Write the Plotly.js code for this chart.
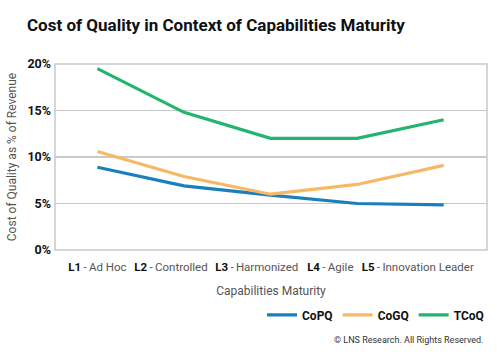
<!DOCTYPE html>
<html><head><meta charset="utf-8">
<script src="https://cdn.plot.ly/plotly-3.0.1.min.js"></script>
<style>body{margin:0;background:#fff}#c{width:500px;height:353px}</style>
</head><body><div id="c"></div>
<script>
const levels = ["L1", "L2", "L3", "L4", "L5"];
const levelNames = ["Ad Hoc", "Controlled", "Harmonized", "Agile", "Innovation Leader"];
const copq = [8.9, 6.9, 5.9, 5.0, 4.85];
const cogq = [10.6, 7.9, 6.0, 7.05, 9.1];
const tcoq = [19.5, 14.8, 12.0, 12.0, 14.0];
const yTicks = [0, 5, 10, 15, 20];

const F = 'Roboto, "Liberation Sans", Arial, sans-serif';
const xIdx = levels.map((_, i) => i);
// label offsets (in category units) to reproduce the packed label layout
const labelShift = [0.0, -0.15, -0.16, -0.31, -0.3];

function tr(name, y, color) {
  return {x: xIdx, y: y, name: '<b>' + name + '</b>', type: 'scatter', mode: 'lines',
    line: {color: color, width: 3.2}, hoverinfo: 'skip'};
}
const data = [tr('CoPQ', copq, '#1a80bd'), tr('CoGQ', cogq, '#f7b866'), tr('TCoQ', tcoq, '#23b46f')];

const layout = {
  width: 500, height: 353,
  margin: {l: 55, r: 13, t: 64, b: 103},
  paper_bgcolor: '#fff', plot_bgcolor: '#fff',
  font: {family: F},
  title: {text: '<b>Cost of Quality in Context of Capabilities Maturity</b>',
    x: 0.054, xanchor: 'left', y: 0.928, yanchor: 'middle',
    font: {family: F, size: 17, color: '#111'}},
  xaxis: {
    range: [-0.49, 4.5], showgrid: false, zeroline: false,
    showline: false, tickangle: 0,
    tickvals: xIdx.map((v, i) => v + labelShift[i]),
    ticktext: levels.map((l, i) => '<b style="color:#111">' + l + '</b>\u2009-\u2009' + levelNames[i]),
    tickfont: {family: F, size: 11.5, color: '#555'}, ticks: '', ticklabelstandoff: 8,
    title: {text: 'Capabilities Maturity', font: {family: F, size: 12, color: '#555'}, standoff: 14}
  },
  yaxis: {
    range: [0, 20], tickvals: yTicks, ticktext: yTicks.map(v => '<b>' + v + '%</b>'),
    tickfont: {family: F, size: 12.5, color: '#111'}, ticks: '',
    showgrid: true, gridcolor: '#c9c9c9', gridwidth: 1.5, zeroline: false,
    showline: false, ticklabelstandoff: 3,
    title: {text: 'Cost of Quality as % of Revenue', font: {family: F, size: 12, color: '#555'}, standoff: 8}
  },
  shapes: [
    {type: 'rect', xref: 'paper', yref: 'paper', x0: 0, x1: 1, y0: 0, y1: 1,
     line: {color: '#c9c9c9', width: 1.5}, layer: 'above'}
  ],
  showlegend: true,
  legend: {orientation: 'h', xref: 'container', yref: 'container', x: 0.978, xanchor: 'right',
    y: 0.108, yanchor: 'middle',
    font: {family: F, size: 12, color: '#111'}, tracegroupgap: 0,
    bgcolor: 'rgba(0,0,0,0)'},
  annotations: [
    {text: '© LNS Research. All Rights Reserved.', xref: 'paper', yref: 'paper',
     x: 0.995, xanchor: 'right', y: -0.484, yanchor: 'middle', showarrow: false,
     font: {family: F, size: 9, color: '#333'}}
  ]
};
Plotly.newPlot('c', data, layout, {displayModeBar: false, staticPlot: true});
</script></body></html>
